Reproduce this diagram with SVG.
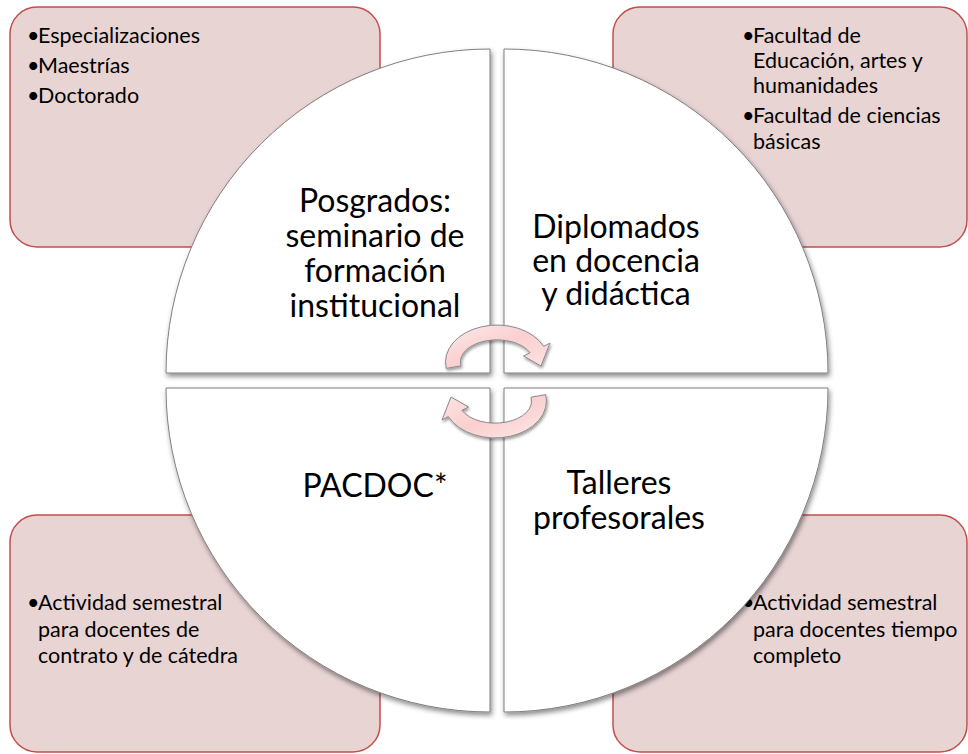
<svg xmlns="http://www.w3.org/2000/svg" xmlns:xlink="http://www.w3.org/1999/xlink" width="968" height="754" viewBox="0 0 968 754">
  <defs>
    <filter id="sh" x="-10%" y="-10%" width="130%" height="130%">
      <feDropShadow dx="1.5" dy="3" stdDeviation="2.5" flood-color="#000" flood-opacity="0.45"/>
    </filter>
    <filter id="shA" x="-20%" y="-20%" width="150%" height="150%">
      <feDropShadow dx="1" dy="2" stdDeviation="1.8" flood-color="#000" flood-opacity="0.4"/>
    </filter>
    <linearGradient id="ag" x1="0" y1="0" x2="1" y2="1">
      <stop offset="0" stop-color="#fde9e9"/>
      <stop offset="0.5" stop-color="#fbcfcf"/>
      <stop offset="1" stop-color="#fde3e3"/>
    </linearGradient>
    <path id="arrow" d="M446.3,368.4 A51.5,37 0 0 1 543.7,346.4 L550,343 L541,366 L523.5,356 L530.1,352.7 A36.5,22 0 0 0 461,365.8 Z"/>
  </defs>
  <style>
    .box { fill: #e9d4d4; stroke: #c0504d; stroke-width: 1.5; }
    .pie { fill: #ffffff; stroke: #7f7f7f; stroke-width: 1; }
    .arr { fill: url(#ag); stroke: #8a8a8a; stroke-width: 1; }
    .sm { font-family: Lato, "Liberation Sans", sans-serif; font-size: 21.5px; fill: #000; }
    .lg { font-family: Lato, "Liberation Sans", sans-serif; font-size: 32px; fill: #000; text-anchor: middle; }
  </style>
  <rect width="968" height="754" fill="#ffffff"/>

  <g id="box-tl">
    <rect class="box" x="10" y="7" width="370" height="240" rx="27" ry="27"/>
    <text class="sm"><tspan x="27" y="42.7">•</tspan><tspan x="38" y="42.7">Especializaciones</tspan></text>
    <text class="sm"><tspan x="27" y="73.3">•</tspan><tspan x="38" y="73.3">Maestrías</tspan></text>
    <text class="sm"><tspan x="27" y="103.3">•</tspan><tspan x="38" y="103.3">Doctorado</tspan></text>
  </g>
  <g id="box-tr">
    <rect class="box" x="613" y="7" width="354" height="240" rx="27" ry="27"/>
    <text class="sm"><tspan x="742" y="42.7">•</tspan><tspan x="753" y="42.7">Facultad de</tspan><tspan x="753" y="68.3">Educación, artes y</tspan><tspan x="753" y="93">humanidades</tspan></text>
    <text class="sm"><tspan x="742" y="123.3">•</tspan><tspan x="753" y="123.3">Facultad de ciencias</tspan><tspan x="753" y="149">básicas</tspan></text>
  </g>
  <g id="box-bl">
    <rect class="box" x="10" y="515" width="370" height="237" rx="27" ry="27"/>
    <text class="sm"><tspan x="27" y="610">•</tspan><tspan x="38" y="610">Actividad semestral</tspan><tspan x="38" y="636.5">para docentes de</tspan><tspan x="38" y="663">contrato y de cátedra</tspan></text>
  </g>
  <g id="box-br">
    <rect class="box" x="613" y="515" width="354" height="237" rx="27" ry="27"/>
    <text class="sm"><tspan x="742" y="610">•</tspan><tspan x="753" y="610">Actividad semestral</tspan><tspan x="753" y="636.5">para docentes tiempo</tspan><tspan x="753" y="663">completo</tspan></text>
  </g>

  <g id="pie-tl">
    <path class="pie" filter="url(#sh)" d="M490,373 L166,373 A324,324 0 0 1 490,49 Z"/>
    <text class="lg"><tspan x="375" y="212">Posgrados:</tspan><tspan x="375" y="247">seminario de</tspan><tspan x="375" y="282">formación</tspan><tspan x="375" y="317">institucional</tspan></text>
  </g>
  <g id="pie-tr">
    <path class="pie" filter="url(#sh)" d="M504,373 L504,49 A324,324 0 0 1 828,373 Z"/>
    <text class="lg"><tspan x="616" y="238">Diplomados</tspan><tspan x="616" y="272">en docencia</tspan><tspan x="616" y="305">y didáctica</tspan></text>
  </g>
  <g id="pie-bl">
    <path class="pie" filter="url(#sh)" d="M490,388 L490,712 A324,324 0 0 1 166,388 Z"/>
    <text class="lg"><tspan x="375" y="497">PACDOC*</tspan></text>
  </g>
  <g id="pie-br">
    <path class="pie" filter="url(#sh)" d="M504,388 L828,388 A324,324 0 0 1 504,712 Z"/>
    <text class="lg"><tspan x="619" y="494">Talleres</tspan><tspan x="619" y="529">profesorales</tspan></text>
  </g>

  <g id="connectors">
    <g filter="url(#shA)"><use xlink:href="#arrow" class="arr"/></g>
    <g filter="url(#shA)"><use xlink:href="#arrow" class="arr" transform="rotate(180 496 381.5)"/></g>
  </g>
</svg>
